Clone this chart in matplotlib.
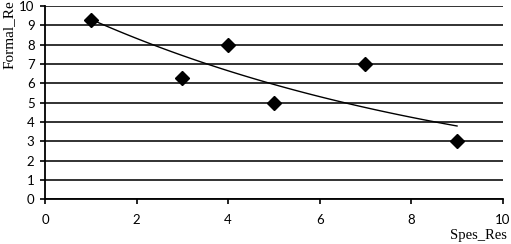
import numpy as np
import matplotlib
matplotlib.use("Agg")
import matplotlib.pyplot as plt

spes_res = [1, 3, 4, 5, 7, 9]
formal_re = [9.3, 6.3, 8.0, 5.0, 7.0, 3.0]
x_ticks = [0, 2, 4, 6, 8, 10]
y_ticks = list(range(0, 11))

fig = plt.figure(figsize=(5.11, 2.44), dpi=100)
ax = fig.add_axes([0.088, 0.184, 0.896, 0.791])

for yv in y_ticks:
    ax.axhline(yv, color="#222222", lw=1.3, zorder=1)

ax.plot(spes_res, formal_re, linestyle="none", marker="D", ms=7.5,
        color="black", zorder=3)

# exponential trend line
b, a = np.polyfit(spes_res, np.log(formal_re), 1)
xs = np.linspace(min(spes_res), max(spes_res), 100)
ax.plot(xs, np.exp(a + b * xs), color="black", lw=1.0, zorder=2)

ax.set_xlim(0, 10)
ax.set_ylim(0, 10)
ax.set_xticks(x_ticks)
ax.set_yticks(y_ticks)
for s in ["top", "right"]:
    ax.spines[s].set_visible(False)
ax.spines["left"].set_linewidth(1.3)
ax.spines["bottom"].set_linewidth(1.3)
ax.tick_params(direction="out", length=3.5, width=1.2, labelsize=9.5)
ax.tick_params(axis="x", pad=7)
ax.tick_params(axis="y", pad=4)
for lab in ax.get_xticklabels() + ax.get_yticklabels():
    lab.set_family("Lato")

fig.text(0.992, 0.008, "Spes_Res", ha="right", va="bottom",
         family="Liberation Serif", fontsize=10.5)
fig.text(0.018, 1.0, "Formal_Re", ha="center", va="top", rotation=90,
         family="Liberation Serif", fontsize=11)

fig.savefig("out.png", dpi=100)
